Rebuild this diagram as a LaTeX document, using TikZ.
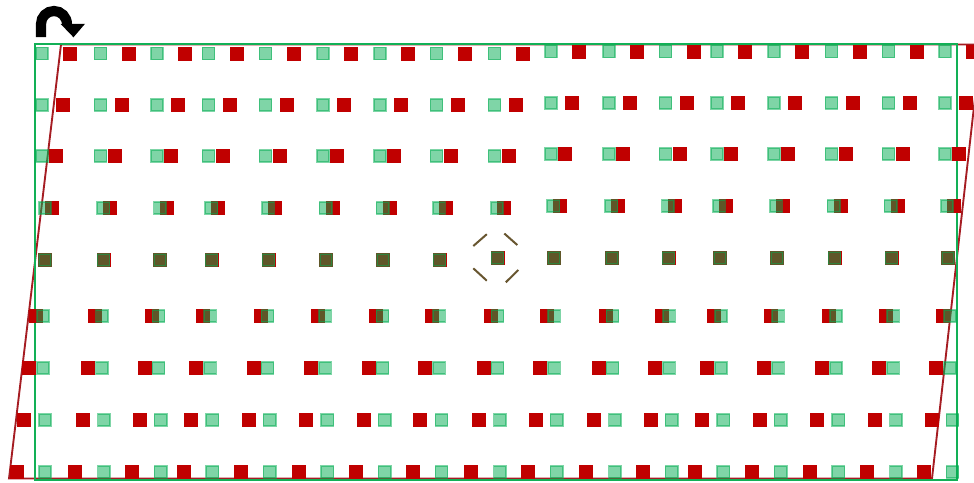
\documentclass[tikz,border=0pt]{standalone}
\usetikzlibrary{calc}
\definecolor{sqgreen}{RGB}{0,173,81}
\definecolor{rectgreen}{RGB}{18,176,86}
\definecolor{sqred}{RGB}{192,0,0}
\definecolor{parared}{RGB}{165,28,34}
\definecolor{markolive}{RGB}{104,86,48}
\tikzset{
  redsq/.style={fill=sqred},
  greensq/.style={fill=sqgreen,draw=sqgreen,fill opacity=0.5,draw opacity=0.5,line width=1.15pt},
  outline/.style={draw=rectgreen,line width=1.8pt},
  paraline/.style={draw=parared,line width=1.4pt},
  marker/.style={draw=markolive,line width=1.5pt},
  rotarrow/.style={draw=black,line width=7.6pt}
}
\begin{document}
\begin{tikzpicture}[x=0.75pt,y=-0.75pt]
\useasboundingbox (0,0) rectangle (974,482);
\fill[white] (0,0) rectangle (974,482);
\def\colx{{42,100.5,157,208.5,265.5,323,380,436.5,494.5,551,609,665.5,717,774,831.5,888.5,945}}
\def\rowy{{53.5,105,156,208,260,316,368,420,472}}
\def\rowa{{0,0,0,3,3,1,1,3,3}}
\def\rowc{{0,0,0,2,3,5,5,7.5,7.5}}
\def\rowd{{28,21,14,7,0,-7,-14,-21,-28.5}}
% red parallelogram
\coordinate (p1) at (61,44.5);
\coordinate (p2) at (981,44.5);
\coordinate (p3) at (932,478.5);
\coordinate (p4) at (9,478.5);
\draw[paraline] (p1) -- (p2) -- (p3) -- (p4) -- cycle;
% green rectangle
\coordinate (r1) at (35,44);
\coordinate (r2) at (957,480);
\draw[outline] (r1) rectangle (r2);
% red squares
\foreach \i in {0,...,8}{
  \foreach \j in {0,...,16}{
    \pgfmathsetmacro\gx{\colx[\j]+\rowa[\i]+(\rowc[\i]-\rowa[\i])*\j/16}
    \pgfmathsetmacro\gy{\rowy[\i]-(((\i<4) && (\j>8)) || ((\i==4) && (\j>7)) ? 2 : 0)}
    \pgfmathsetmacro\rx{\gx+\rowd[\i]}
    \fill[redsq] (\rx-7,\gy-7) rectangle ++(14,14);
  }
}
% green squares
\foreach \i in {0,...,8}{
  \foreach \j in {0,...,16}{
    \pgfmathsetmacro\gx{\colx[\j]+\rowa[\i]+(\rowc[\i]-\rowa[\i])*\j/16}
    \pgfmathsetmacro\gy{\rowy[\i]-(((\i<4) && (\j>8)) || ((\i==4) && (\j>7)) ? 2 : 0)}
    \draw[greensq] (\gx-6.2,\gy-6.2) rectangle ++(12.4,12.4);
  }
}
% centre marker
\coordinate (mc) at (495.8,257.5);
\draw[marker] ($(mc)+(-22.5,-11.5)$) -- ($(mc)+(-9,-23.3)$);
\draw[marker] ($(mc)+(8.5,-24)$) -- ($(mc)+(21.5,-12.5)$);
\draw[marker] ($(mc)+(-22.5,10.8)$) -- ($(mc)+(-9,23.2)$);
\draw[marker] ($(mc)+(10,24.8)$) -- ($(mc)+(22.5,12.5)$);
% rotate icon
\coordinate (a0) at (41,37);
\coordinate (a1) at (41,24);
\coordinate (a2) at (54,11);
\coordinate (a3) at (67,24.5);
\draw[rotarrow] (a0) -- (a1) .. controls (41,16.8) and (46.8,11) .. (a2) .. controls (61.2,11) and (67,16.8) .. (a3);
\coordinate (h1) at (60.5,23.8);
\coordinate (h2) at (85,23.8);
\coordinate (h3) at (73.5,37.3);
\fill[black] (h1) -- (h2) -- (h3) -- cycle;
\end{tikzpicture}
\end{document}
